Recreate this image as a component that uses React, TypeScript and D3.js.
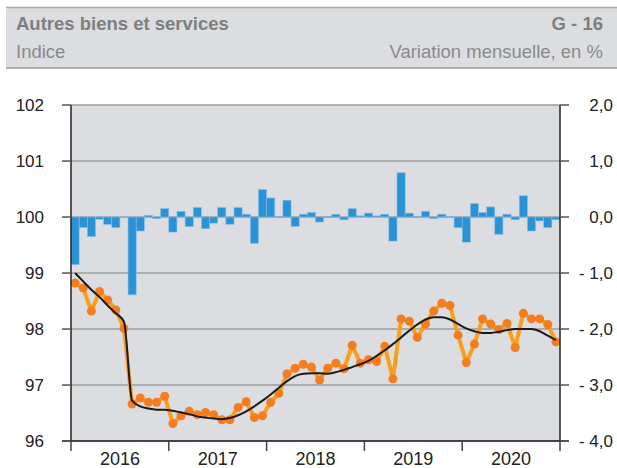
import React from "react";
import * as d3 from "d3";

const years = ["2016", "2017", "2018", "2019", "2020"];
const leftTicks = [96, 97, 98, 99, 100, 101, 102];
const rightTicks = [-4, -3, -2, -1, 0, 1, 2];

// Monthly variation, % (Jan 2016 - Dec 2020)
const variation = [
  -0.85, -0.19, -0.35, -0.04, -0.13, -0.19, -0.01, -1.39, -0.25, 0.03, -0.03, 0.15,
  -0.27, 0.1, -0.17, 0.17, -0.21, -0.11, 0.17, -0.13, 0.17, 0.05, -0.47, 0.49,
  0.34, 0.01, 0.3, -0.17, 0.05, 0.08, -0.09, 0.01, 0.05, -0.05, 0.15, 0.02,
  0.07, 0.02, 0.05, -0.43, 0.79, 0.07, 0.01, 0.1, -0.03, 0.05, 0.01, -0.19,
  -0.45, 0.24, 0.08, 0.18, -0.31, 0.05, -0.05, 0.38, -0.25, -0.07, -0.19, -0.05,
];

// Index level
const index = [
  98.82, 98.73, 98.32, 98.67, 98.52, 98.34, 98.01, 96.66, 96.77, 96.69, 96.69, 96.8,
  96.31, 96.45, 96.53, 96.47, 96.51, 96.47, 96.38, 96.38, 96.6, 96.7, 96.42, 96.45,
  96.69, 96.85, 97.2, 97.3, 97.37, 97.32, 97.09, 97.3, 97.39, 97.29, 97.71, 97.39,
  97.45, 97.42, 97.69, 97.11, 98.18, 98.14, 97.85, 98.09, 98.32, 98.46, 98.42, 97.89,
  97.4, 97.73, 98.18, 98.09, 97.99, 98.1, 97.67, 98.28, 98.18, 98.18, 98.08, 97.77,
];

// Trend
const trend = [
  99.0, 98.85, 98.7, 98.57, 98.42, 98.28, 98.13, 96.72, 96.62, 96.58, 96.56, 96.56,
  96.54, 96.51, 96.48, 96.44, 96.42, 96.4, 96.39, 96.41, 96.46, 96.53, 96.62, 96.72,
  96.83, 96.95, 97.07, 97.16, 97.2, 97.21, 97.21, 97.2, 97.23, 97.27, 97.32, 97.37,
  97.43, 97.52, 97.62, 97.73, 97.85, 97.97, 98.08, 98.17, 98.21, 98.21, 98.17, 98.09,
  98.01, 97.96, 97.93, 97.93, 97.95, 97.98, 98.0, 98.0, 98.0, 97.96, 97.88, 97.8,
];

const W = 617;
const H = 468;
const L = 71;
const R = 560;
const T = 105;
const B = 441;
const font = "'Liberation Sans', Arial, sans-serif";

export default function App() {
  const months = d3.range(variation.length);
  const x = d3.scaleBand<number>().domain(months).range([L, R]).padding(0);
  const yL = d3.scaleLinear().domain([96, 102]).range([B, T]);
  const yR = d3.scaleLinear().domain([-4, 2]).range([B, T]);
  const cx = (i: number) => (x(i) as number) + x.bandwidth() / 2;

  const indexLine = d3
    .line<number>()
    .x((_, i) => cx(i))
    .y((d) => yL(d));
  const trendLine = d3
    .line<number>()
    .x((_, i) => cx(i))
    .y((d) => yL(d))
    .curve(d3.curveMonotoneX);

  const yearScale = d3.scaleLinear().domain([0, years.length]).range([L, R]);

  return (
    <svg
      width={W}
      height={H}
      style={{ position: "absolute", left: 0, top: 0, background: "#fff" }}
      fontFamily={font}
    >
      {/* header */}
      <rect x={6} y={7} width={W - 6} height={61} fill="#dcdde0" />
      <line x1={6} x2={W} y1={7.5} y2={7.5} stroke="#a8a8a8" strokeWidth={1.5} />
      <line x1={6} x2={W} y1={68} y2={68} stroke="#9a9a9a" strokeWidth={1.5} />
      <text x={16} y={30} fontSize={18.5} fontWeight="bold" fill="#7f7f7f">
        Autres biens et services
      </text>
      <text x={603} y={30} fontSize={18.5} fontWeight="bold" fill="#7f7f7f" textAnchor="end">
        G - 16
      </text>
      <text x={16} y={58} fontSize={18.5} fill="#8a8a8a">
        Indice
      </text>
      <text x={603} y={58} fontSize={18.5} fill="#8a8a8a" textAnchor="end">
        Variation mensuelle, en %
      </text>

      {/* plot background */}
      <rect x={L} y={T} width={R - L} height={B - T} fill="#dcdde0" />

      {/* gridlines */}
      {leftTicks.map((t) => (
        <line key={"g" + t} x1={L} x2={R} y1={yL(t)} y2={yL(t)} stroke="#9c9c9c" strokeWidth={1.5} />
      ))}

      {/* bars */}
      {variation.map((v, i) => {
        const y0 = yR(Math.max(v, 0));
        const y1 = yR(Math.min(v, 0));
        return (
          <rect
            key={"b" + i}
            x={x(i) as number}
            y={y0}
            width={x.bandwidth()}
            height={Math.max(y1 - y0, 0.8)}
            fill="#2b93d5"
            stroke="#86bfe6"
            strokeWidth={0.6}
          />
        );
      })}

      {/* index line */}
      <path d={indexLine(index) || ""} fill="none" stroke="#f8a01c" strokeWidth={4} strokeLinejoin="round" />
      {index.map((v, i) => (
        <circle key={"c" + i} cx={cx(i)} cy={yL(v)} r={4.5} fill="#f47d20" />
      ))}

      {/* trend */}
      <path d={trendLine(trend) || ""} fill="none" stroke="#1a1a1a" strokeWidth={2} />

      {/* axes */}
      <line x1={L} x2={L} y1={T} y2={B} stroke="#222" strokeWidth={1.5} />
      <line x1={R} x2={R} y1={T} y2={B} stroke="#222" strokeWidth={1.5} />
      <line x1={L - 9} x2={R + 9} y1={B} y2={B} stroke="#222" strokeWidth={1.5} />

      {leftTicks.map((t) => (
        <g key={"l" + t}>
          <line x1={L - 9} x2={L} y1={yL(t)} y2={yL(t)} stroke="#555" strokeWidth={1.5} />
          <text x={44} y={yL(t)} dy="0.35em" fontSize={17} fill="#222" textAnchor="end">
            {t}
          </text>
        </g>
      ))}
      {rightTicks.map((t) => (
        <g key={"r" + t}>
          <line x1={R} x2={R + 9} y1={yR(t)} y2={yR(t)} stroke="#555" strokeWidth={1.5} />
          <text x={613} y={yR(t)} dy="0.35em" fontSize={17} fill="#222" textAnchor="end">
            {(t < 0 ? "- " : "") + Math.abs(t).toFixed(1).replace(".", ",")}
          </text>
        </g>
      ))}

      {d3.range(years.length + 1).map((k) => (
        <line
          key={"xt" + k}
          x1={yearScale(k)}
          x2={yearScale(k)}
          y1={B}
          y2={B + 10}
          stroke="#444"
          strokeWidth={1.5}
        />
      ))}
      {years.map((yr, k) => (
        <text key={yr} x={yearScale(k + 0.5)} y={465} fontSize={18} fill="#222" textAnchor="middle">
          {yr}
        </text>
      ))}
    </svg>
  );
}
